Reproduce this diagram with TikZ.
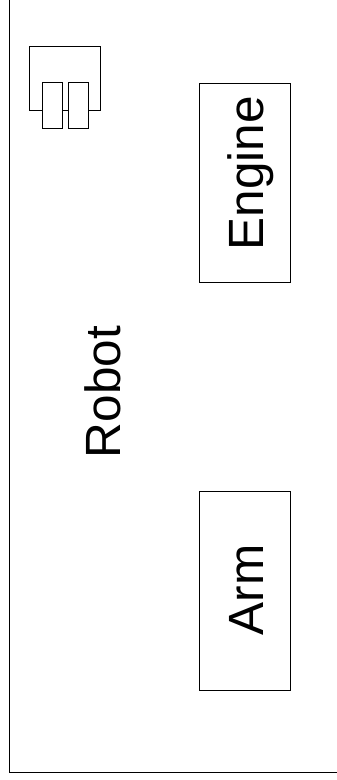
\documentclass[tikz,border=0pt]{standalone}
\usepackage{fontspec}
\setmainfont{Liberation Sans}
\usetikzlibrary{positioning}

\begin{document}
\begin{tikzpicture}[
    x=1pt, y=-1pt,
    partbox/.style = {rectangle, draw=black, line width=1pt, inner sep=0pt, minimum width=91pt, minimum height=199pt},
    iconbox/.style = {rectangle, draw=black, line width=1pt, inner sep=0pt, fill=white, minimum width=20pt, minimum height=46pt},
    framebox/.style = {rectangle, draw=black, line width=1.1pt, inner sep=0pt, minimum width=348pt, minimum height=793pt},
    partlabel/.style = {rotate=90, anchor=base, inner sep=0pt, font=\fontsize{49.5}{49.5}\selectfont}
]
\useasboundingbox (0,0) rectangle (337,780);
\clip (0,0) rectangle (337,780);

% Outer frame runs off the top and right of the page
\node (robot_frame) [framebox] at (183.5, 376) {};
\node (robot_label) [partlabel] at (120, 392) {Robot};

% Component icon
\node (icon_body) [rectangle, draw=black, line width=1pt, inner sep=0pt, minimum width=71pt, minimum height=64pt] at (65, 78.5) {};
\node (icon_left) [iconbox] at (52, 105) {};
\node (icon_right) [iconbox] at (78, 105) {};

% Parts
\node (engine) [partbox] at (244.5, 182.5) {};
\node (engine_label) [partlabel] at (263, 173) {Engine};
\node (arm) [partbox] at (244.5, 590.5) {};
\node (arm_label) [partlabel] at (263, 590) {Arm};

\end{tikzpicture}
\end{document}
